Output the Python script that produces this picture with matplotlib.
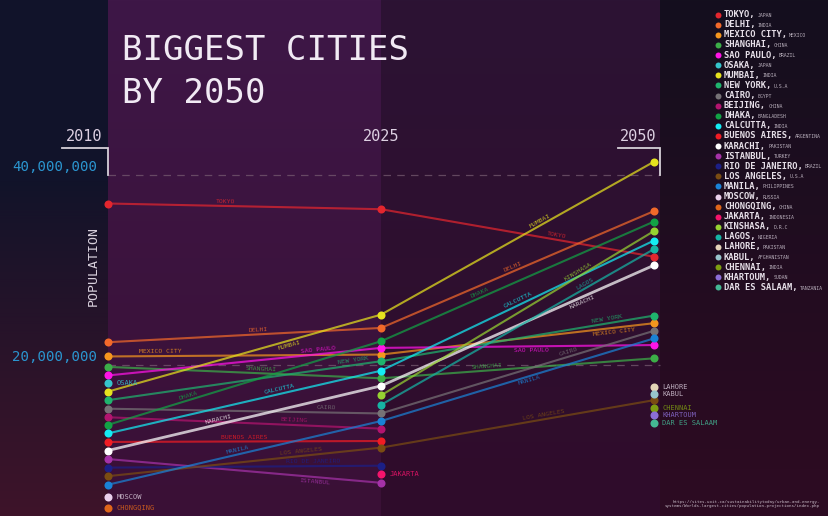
import math
import numpy as np
import matplotlib
matplotlib.use("Agg")
import matplotlib.pyplot as plt

# ---------------- data ----------------
cities = ["TOKYO", "DELHI", "MEXICO CITY", "SHANGHAI", "SAO PAULO", "OSAKA", "MUMBAI",
          "NEW YORK", "CAIRO", "BEIJING", "DHAKA", "CALCUTTA", "BUENOS AIRES", "KARACHI",
          "ISTANBUL", "RIO DE JANEIRO", "LOS ANGELES", "MANILA", "MOSCOW", "CHONGQING",
          "JAKARTA", "KINSHASA", "LAGOS", "LAHORE", "KABUL", "CHENNAI", "KHARTOUM",
          "DAR ES SALAAM"]
countries = ["JAPAN", "INDIA", "MEXICO", "CHINA", "BRAZIL", "JAPAN", "INDIA", "U.S.A", "EGYPT",
             "CHINA", "BANGLADESH", "INDIA", "ARGENTINA", "PAKISTAN", "TURKEY", "BRAZIL", "U.S.A",
             "PHILIPPINES", "RUSSIA", "CHINA", "INDONESIA", "D.R.C", "NIGERIA", "PAKISTAN",
             "AFGHANISTAN", "INDIA", "SUDAN", "TANZANIA"]
nan = float("nan")
# population in millions
pop_2010 = [37.0, 22.4, 20.9, 19.8, 18.9, 18.1, 17.2, 16.3, 15.4, 14.5, 13.7, 12.8, 11.9, 11.0,
            10.1, 9.2, 8.3, 7.4, 6.1, 5.0, nan, nan, nan, nan, nan, nan, nan, nan]
pop_2025 = [36.4, 23.9, 21.1, 18.6, 21.8, nan, 25.3, 20.4, 14.9, 13.3, 22.5, 19.4, 12.0, 17.8,
            7.6, 9.4, 11.3, 14.1, nan, nan, 8.5, 16.8, 15.8, nan, nan, nan, nan, nan]
pop_2050 = [31.4, 36.2, 24.4, 20.7, 22.1, nan, 41.4, 25.2, 23.6, nan, 35.1, 33.1, nan, 30.5,
            nan, nan, 16.3, 22.8, nan, nan, nan, 34.1, 32.2, 17.7, 17.0, 15.5, 14.7, 13.9]
years = ["2010", "2025", "2050"]
tick_values = [20, 40]  # millions

# ---------------- styles ----------------
colors = ["#e3262e", "#f2692a", "#f5961e", "#3cae48", "#ff14e6", "#35c4cc", "#e6e21e",
          "#1fb46e", "#767276", "#b3146f", "#12a245", "#14ecf4", "#f01c24", "#ffffff",
          "#a532a8", "#1c1f86", "#7a4c12", "#1a82d6", "#ead0ec", "#e0661a", "#f5146c",
          "#96d232", "#16b4a4", "#e4d4b8", "#98c4cc", "#7e9e12", "#8c6ed6", "#44b894"]

# labels along segments: (city, segment, fraction along, side)
seg_labels = [
    ("TOKYO", 0, 0.43, 1), ("DELHI", 0, 0.55, 1), ("MEXICO CITY", 0, 0.19, 1),
    ("MUMBAI", 0, 0.66, -1), ("SAO PAULO", 0, 0.77, 1), ("SHANGHAI", 0, 0.56, 1),
    ("NEW YORK", 0, 0.90, 1), ("DHAKA", 0, 0.30, 1), ("CALCUTTA", 0, 0.63, 1),
    ("CAIRO", 0, 0.80, 1), ("KARACHI", 0, 0.41, 1), ("BEIJING", 0, 0.68, 1),
    ("BUENOS AIRES", 0, 0.50, 1), ("MANILA", 0, 0.48, 1), ("LOS ANGELES", 0, 0.71, 1),
    ("RIO DE JANEIRO", 0, 0.75, 1), ("ISTANBUL", 0, 0.76, -1),
    ("MUMBAI", 1, 0.59, 1), ("TOKYO", 1, 0.64, 1), ("DELHI", 1, 0.49, 1),
    ("DHAKA", 1, 0.37, 1), ("KINSHASA", 1, 0.73, 1), ("CALCUTTA", 1, 0.51, 1),
    ("LAGOS", 1, 0.755, 1), ("KARACHI", 1, 0.73, -1), ("NEW YORK", 1, 0.83, 1),
    ("MEXICO CITY", 1, 0.85, -1), ("SAO PAULO", 1, 0.55, -1), ("CAIRO", 1, 0.69, 1),
    ("MANILA", 1, 0.54, -1), ("SHANGHAI", 1, 0.39, 1), ("LOS ANGELES", 1, 0.60, 1),
]

W, H = 829, 516
PX_PER_X = 273.0
PX_PER_M = 9.5
XMIN = -108.0 / PX_PER_X
XMAX = XMIN + W / PX_PER_X
YMAX = 40 + 175.0 / PX_PER_M
YMIN = YMAX - H / PX_PER_M
XRIGHT = XMIN + 660.0 / PX_PER_X  # right edge of chart panel

MONO = ["DejaVu Sans Mono", "DejaVu Sans"]

fig = plt.figure(figsize=(W / 100, H / 100), dpi=100)
ax = fig.add_axes([0, 0, 1, 1])
ax.set_xlim(XMIN, XMAX)
ax.set_ylim(YMIN, YMAX)
ax.axis("off")


def rgb(h):
    h = h.lstrip("#")
    return np.array([int(h[i:i + 2], 16) / 255 for i in (0, 2, 4)])


# ---------------- background ----------------
img = np.zeros((H, W, 3))
yf = np.linspace(0, 1, H)[:, None]


def col_of(x):
    return int(round((x - XMIN) / (XMAX - XMIN) * W))


regions = [
    (0, col_of(0), "#11132a", "#3e1329", lambda f: np.clip((f - 0.35) / 0.65, 0, 1) ** 0.9),
    (col_of(0), col_of(1), "#3e1747", "#3a1036", lambda f: f),
    (col_of(1), col_of(XRIGHT), "#2c1334", "#300c2b", lambda f: f),
    (col_of(XRIGHT), W, "#140f1e", "#2c0b22", lambda f: np.clip(f * 1.1, 0, 1)),
]
for c0, c1, top, bot, fn in regions:
    f = fn(yf)
    band = rgb(top)[None, :] * (1 - f) + rgb(bot)[None, :] * f
    img[:, c0:c1, :] = band[:, None, :]
ax.imshow(img, extent=[XMIN, XMAX, YMIN, YMAX], aspect="auto", origin="upper", zorder=0,
          interpolation="bilinear")

# ---------------- grid / brackets ----------------
for v in tick_values:
    ax.plot([0, XRIGHT], [v, v], color="#7a5f74", lw=0.9, dashes=(6, 5), alpha=0.7, zorder=1)
    ax.annotate(f"{v * 1_000_000:,}", xy=(0, v), xytext=(-8, 6), textcoords="offset points",
                ha="right", va="center", color="#2b95cf", fontsize=10.2, family=MONO)

yb = 40 + 27 / PX_PER_M
ax.plot([XMIN + 62 / PX_PER_X, 0, 0], [yb, yb, 40], color="#d6d0d8", lw=1.3, zorder=2,
        solid_joinstyle="miter")
ax.plot([XMIN + 618 / PX_PER_X, XRIGHT, XRIGHT], [yb, yb, 40], color="#d6d0d8", lw=1.3,
        zorder=2, solid_joinstyle="miter")

year_x = [0 - 6 / PX_PER_X, 1, XRIGHT - 4 / PX_PER_X]
year_ha = ["right", "center", "right"]
for xv, ha, lab in zip(year_x, year_ha, years):
    ax.text(xv, yb + 4 / PX_PER_M, lab, ha=ha, va="bottom", color="#ddd0e2", fontsize=11,
            family=MONO)

ax.text(XMIN + 93 / PX_PER_X, YMAX - 266 / PX_PER_M, "POPULATION", rotation=90, ha="center",
        va="center", color="#d8d0dc", fontsize=9.5, family=MONO)

fig.text(122 / W, 1 - 60 / H, "BIGGEST CITIES", color="#f1eaf4", fontsize=24.5, family=MONO,
         va="baseline", ha="left")
fig.text(122 / W, 1 - 103 / H, "BY 2050", color="#f1eaf4", fontsize=24.5, family=MONO,
         va="baseline", ha="left")

# ---------------- lines & points ----------------
series = [pop_2010, pop_2025, pop_2050]
for i, city in enumerate(cities):
    vals = [s[i] for s in series]
    lw = 2.0 if city == "KARACHI" else 1.5
    for seg in range(2):
        a, b = vals[seg], vals[seg + 1]
        if not (math.isnan(a) or math.isnan(b)):
            ax.plot([seg, seg + 1], [a, b], color=colors[i], lw=lw, alpha=0.72,
                    solid_capstyle="round", zorder=3)
    for j, v in enumerate(vals):
        if not math.isnan(v):
            ax.plot(j, v, "o", ms=5.8, color=colors[i], mec="none", zorder=5, clip_on=False)

# labels along segments
for city, seg, t, side in seg_labels:
    i = cities.index(city)
    a, b = series[seg][i], series[seg + 1][i]
    x = seg + t
    y = a + t * (b - a)
    ang = math.atan2((b - a) * PX_PER_M, PX_PER_X)
    d = 3.2 * side
    ox, oy = -math.sin(ang) * d, math.cos(ang) * d
    ax.annotate(city, xy=(x, y), xytext=(ox, oy), textcoords="offset points",
                rotation=math.degrees(ang), rotation_mode="anchor", ha="center",
                va="center", fontsize=4.6, family=MONO, color=colors[i], alpha=0.8, zorder=4)

# point labels (cities present in a single year)
for i, city in enumerate(cities):
    vals = [s[i] for s in series]
    present = [j for j, v in enumerate(vals) if not math.isnan(v)]
    if len(present) == 1:
        j = present[0]
        tc = colors[i] if city not in ("MOSCOW", "LAHORE", "KABUL") else "#d8cada"
        ax.annotate(city, xy=(j, vals[j]), xytext=(6, 0), textcoords="offset points",
                    ha="left", va="center", fontsize=5.0, family=MONO, color=tc, alpha=0.85,
                    zorder=4)

# ---------------- legend ----------------
LFS = 6.3
for i, (city, country) in enumerate(zip(cities, countries)):
    ypx = 14.7 + i * 10.1
    yfig = 1 - ypx / H
    fig.lines.append(plt.Line2D([718 / W], [yfig], marker="o", ms=4.3, color=colors[i],
                                mec="none", transform=fig.transFigure))
    fig.text(724 / W, yfig, city + ",", color="#e6dfe8", fontsize=LFS, family=MONO,
             fontweight="bold", va="center", ha="left")
    w = (len(city) + 1) * 0.602 * LFS * 100 / 72 + 2
    fig.text((724 + w) / W, yfig - 0.6 / H, country, color="#b8aebb", fontsize=3.5,
             family=MONO, va="center", ha="left")

fig.text(820 / W, 1 - 504 / H,
         "https://sites.uoit.ca/sustainabilitytoday/urban-and-energy-\n"
         "systems/Worlds-largest-cities/population-projections/index.php",
         color="#c8bcc8", fontsize=3.0, family=MONO, ha="right", va="center",
         multialignment="right")

fig.savefig("out.png", dpi=100)
